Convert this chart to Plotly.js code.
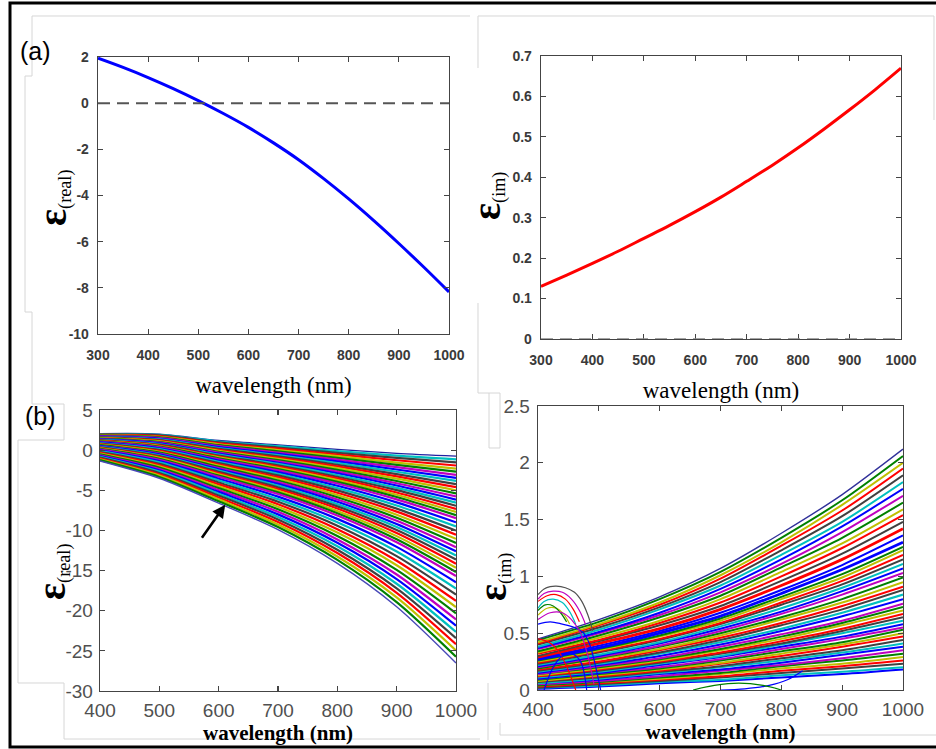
<!DOCTYPE html>
<html><head><meta charset="utf-8">
<script src="https://cdn.plot.ly/plotly-3.0.1.min.js"></script>
<style>html,body{margin:0;padding:0;background:#fff}#chart{width:936px;height:749px}</style>
</head><body><div id="chart"></div>
<script>
// ---------- (a) single permittivity curves ----------
const wlA = [300,350,400,450,500,550,600,650,700,750,800,850,900,950,1000];
const epsRealA = [1.95,1.55,1.11,0.63,0.11,-0.45,-1.05,-1.72,-2.45,-3.27,-4.15,-5.09,-6.08,-7.11,-8.18];
const epsImA = [0.13,0.158,0.187,0.217,0.249,0.281,0.315,0.351,0.39,0.43,0.473,0.519,0.567,0.617,0.67];

// ---------- (b) families of curves ----------
const wlB = [400,500,600,700,800,900,1000];
const epsRealB = [
[2.05,2.0,1.2,0.65,0.1,-0.4,-0.75],
[2.0,1.92,1.08,0.49,-0.11,-0.69,-1.14],
[1.95,1.84,0.97,0.33,-0.33,-0.97,-1.52],
[1.9,1.75,0.85,0.18,-0.54,-1.26,-1.91],
[1.85,1.67,0.73,0.02,-0.75,-1.55,-2.3],
[1.8,1.59,0.62,-0.14,-0.97,-1.83,-2.68],
[1.74,1.51,0.5,-0.3,-1.18,-2.12,-3.07],
[1.69,1.42,0.38,-0.46,-1.39,-2.41,-3.45],
[1.64,1.34,0.26,-0.62,-1.6,-2.69,-3.84],
[1.59,1.26,0.15,-0.77,-1.82,-2.98,-4.23],
[1.54,1.18,0.03,-0.93,-2.03,-3.27,-4.61],
[1.49,1.09,-0.09,-1.09,-2.24,-3.55,-5.0],
[1.44,1.01,-0.2,-1.25,-2.46,-3.84,-5.39],
[1.39,0.93,-0.32,-1.41,-2.67,-4.12,-5.77],
[1.34,0.85,-0.44,-1.57,-2.88,-4.41,-6.16],
[1.29,0.76,-0.56,-1.72,-3.1,-4.7,-6.54],
[1.23,0.68,-0.67,-1.88,-3.31,-4.98,-6.93],
[1.18,0.6,-0.79,-2.04,-3.52,-5.27,-7.32],
[1.13,0.52,-0.91,-2.2,-3.73,-5.56,-7.7],
[1.08,0.43,-1.02,-2.36,-3.95,-5.84,-8.09],
[1.03,0.35,-1.14,-2.52,-4.16,-6.13,-8.48],
[0.96,0.24,-1.3,-2.73,-4.44,-6.51,-8.99],
[0.89,0.13,-1.45,-2.94,-4.73,-6.89,-9.51],
[0.83,0.02,-1.61,-3.15,-5.01,-7.28,-10.02],
[0.76,-0.09,-1.76,-3.36,-5.3,-7.66,-10.54],
[0.69,-0.2,-1.92,-3.57,-5.58,-8.04,-11.05],
[0.62,-0.31,-2.08,-3.78,-5.86,-8.42,-11.57],
[0.55,-0.42,-2.23,-3.99,-6.15,-8.8,-12.08],
[0.49,-0.53,-2.39,-4.2,-6.43,-9.19,-12.6],
[0.42,-0.64,-2.54,-4.41,-6.72,-9.57,-13.11],
[0.35,-0.75,-2.7,-4.63,-7.0,-9.95,-13.63],
[0.28,-0.86,-2.86,-4.84,-7.28,-10.33,-14.14],
[0.21,-0.97,-3.01,-5.05,-7.57,-10.71,-14.66],
[0.15,-1.08,-3.17,-5.26,-7.85,-11.1,-15.17],
[0.08,-1.19,-3.32,-5.47,-8.14,-11.48,-15.69],
[-0.02,-1.36,-3.56,-5.79,-8.56,-12.05,-16.46],
[-0.13,-1.52,-3.79,-6.1,-8.99,-12.62,-17.23],
[-0.23,-1.69,-4.03,-6.42,-9.41,-13.2,-18.0],
[-0.33,-1.85,-4.26,-6.74,-9.84,-13.77,-18.78],
[-0.43,-2.02,-4.49,-7.05,-10.27,-14.34,-19.55],
[-0.53,-2.18,-4.73,-7.37,-10.69,-14.92,-20.32],
[-0.64,-2.35,-4.96,-7.68,-11.12,-15.49,-21.09],
[-0.74,-2.51,-5.2,-8.0,-11.54,-16.06,-21.87],
[-0.84,-2.68,-5.43,-8.32,-11.97,-16.64,-22.64],
[-0.94,-2.84,-5.66,-8.63,-12.4,-17.21,-23.41],
[-1.04,-3.01,-5.9,-8.95,-12.82,-17.78,-24.18],
[-1.15,-3.17,-6.13,-9.27,-13.25,-18.35,-24.96],
[-1.25,-3.34,-6.37,-9.58,-13.67,-18.93,-25.73],
[-1.35,-3.5,-6.6,-9.9,-14.1,-19.5,-26.5]
];
const epsImB = [
[0.01,0.03,0.06,0.08,0.11,0.14,0.18],
[0.02,0.04,0.07,0.09,0.13,0.16,0.2],
[0.02,0.05,0.08,0.11,0.15,0.19,0.23],
[0.03,0.06,0.09,0.12,0.17,0.21,0.26],
[0.04,0.07,0.1,0.14,0.19,0.23,0.29],
[0.04,0.07,0.11,0.15,0.21,0.26,0.32],
[0.05,0.08,0.12,0.17,0.22,0.28,0.35],
[0.06,0.09,0.14,0.18,0.24,0.31,0.38],
[0.06,0.1,0.15,0.2,0.26,0.33,0.41],
[0.07,0.11,0.16,0.21,0.28,0.35,0.44],
[0.08,0.12,0.17,0.23,0.3,0.38,0.47],
[0.08,0.13,0.18,0.24,0.32,0.4,0.5],
[0.09,0.14,0.19,0.26,0.34,0.42,0.53],
[0.1,0.15,0.2,0.27,0.36,0.45,0.55],
[0.1,0.15,0.22,0.29,0.38,0.47,0.58],
[0.11,0.16,0.23,0.3,0.4,0.5,0.61],
[0.12,0.17,0.24,0.32,0.41,0.52,0.64],
[0.12,0.18,0.25,0.33,0.43,0.54,0.67],
[0.13,0.19,0.26,0.35,0.45,0.57,0.7],
[0.14,0.2,0.27,0.36,0.47,0.59,0.73],
[0.14,0.21,0.28,0.38,0.49,0.61,0.76],
[0.15,0.22,0.3,0.4,0.52,0.65,0.8],
[0.16,0.23,0.32,0.42,0.54,0.68,0.84],
[0.17,0.24,0.33,0.44,0.57,0.71,0.88],
[0.18,0.25,0.35,0.46,0.59,0.74,0.91],
[0.19,0.27,0.36,0.48,0.62,0.77,0.95],
[0.19,0.28,0.38,0.5,0.64,0.8,0.99],
[0.2,0.29,0.39,0.52,0.67,0.84,1.03],
[0.21,0.3,0.41,0.54,0.69,0.87,1.07],
[0.22,0.31,0.42,0.56,0.72,0.9,1.11],
[0.23,0.33,0.44,0.58,0.75,0.93,1.15],
[0.24,0.34,0.45,0.59,0.77,0.96,1.19],
[0.25,0.35,0.47,0.61,0.8,0.99,1.23],
[0.26,0.36,0.48,0.63,0.82,1.02,1.26],
[0.27,0.37,0.5,0.65,0.85,1.06,1.3],
[0.28,0.39,0.52,0.68,0.88,1.1,1.36],
[0.29,0.41,0.54,0.71,0.92,1.15,1.42],
[0.3,0.43,0.57,0.74,0.96,1.2,1.48],
[0.32,0.44,0.59,0.77,1.0,1.25,1.54],
[0.33,0.46,0.61,0.8,1.04,1.29,1.59],
[0.34,0.48,0.64,0.83,1.08,1.34,1.65],
[0.36,0.5,0.66,0.86,1.11,1.39,1.71],
[0.37,0.51,0.68,0.89,1.15,1.44,1.77],
[0.38,0.53,0.71,0.92,1.19,1.48,1.83],
[0.4,0.55,0.73,0.95,1.23,1.53,1.89],
[0.41,0.57,0.75,0.98,1.27,1.58,1.95],
[0.42,0.58,0.77,1.01,1.3,1.63,2.0],
[0.44,0.6,0.8,1.04,1.34,1.67,2.06],
[0.45,0.62,0.82,1.07,1.38,1.72,2.12]
];
// spurious arc-shaped solutions in (b) imaginary part
const arcWl = [
[400,410,420,430,445,460,472,482,490],
[400,410,425,440,455,468,478],
[400,415,430,445,458,468],
[400,410,425,440,452,462],
[400,415,430,442,452],
[400,420,440,460,475,485,495,503],
[400,412,425,437,447],
[400,420,440,455,470,482,492],
[400,418,435,450,462],
[410,425,440,455,470,480],
[700,740,780,810,835],
[655,690,730,770,800]
];
const arcIm = [
[0.84,0.89,0.91,0.915,0.9,0.86,0.78,0.66,0.52],
[0.80,0.85,0.87,0.86,0.8,0.7,0.58],
[0.78,0.83,0.84,0.8,0.71,0.6],
[0.72,0.78,0.8,0.77,0.69,0.58],
[0.66,0.72,0.72,0.67,0.58],
[0.58,0.6,0.58,0.55,0.5,0.4,0.2,0.0],
[0.70,0.75,0.74,0.68,0.6],
[0.62,0.68,0.68,0.62,0.5,0.3,0.05],
[0.45,0.42,0.33,0.17,0.0],
[0.0,0.2,0.3,0.32,0.25,0.0],
[0.0,0.01,0.04,0.09,0.17],
[0.0,0.04,0.06,0.04,0.0]
];

// ---------- tick labels ----------
const xTicksA = [300,400,500,600,700,800,900,1000];
const xTickTextA = ['300','400','500','600','700','800','900','1000'];
const yTicksRealA = [-10,-8,-6,-4,-2,0,2];
const yTickTextRealA = ['-10','-8','-6','-4','-2','0','2'];
const yTicksImA = [0,0.1,0.2,0.3,0.4,0.5,0.6,0.7];
const yTickTextImA = ['0','0.1','0.2','0.3','0.4','0.5','0.6','0.7'];
const xTicksB = [400,500,600,700,800,900,1000];
const xTickTextB = ['400','500','600','700','800','900','1000'];
const yTicksRealB = [-30,-25,-20,-15,-10,-5,0,5];
const yTickTextRealB = ['-30','-25','-20','-15','-10','-5','0','5'];
const yTicksImB = [0,0.5,1,1.5,2,2.5];
const yTickTextImB = ['0','0.5','1','1.5','2','2.5'];

// ---------- styling ----------
const matlabColors = ['#0000FF','#008000','#FF0000','#00BFBF','#BF00BF','#BFBF00','#404040'];
const arcColors = ['#505050','#BF00BF','#FF0000','#00BFBF','#BFBF00','#0000FF','#008000','#BF00BF','#FF0000','#0000FF','#0000FF','#008000'];
const W = 936, H = 749;
const px = v => v / W;
const py = v => 1 - v / H;

const traces = [];
traces.push({x: wlA, y: epsRealA, xaxis:'x', yaxis:'y', mode:'lines', line:{color:'#0000FF', width:3, shape:'spline'}, hoverinfo:'skip'});
traces.push({x: wlA, y: epsImA, xaxis:'x2', yaxis:'y2', mode:'lines', line:{color:'#FF0000', width:3, shape:'spline'}, hoverinfo:'skip'});
const edgeReal = {0:'#2020A0', 48:'#4848B8'};
epsRealB.forEach((row, i) => {
  traces.push({x: wlB, y: row, xaxis:'x3', yaxis:'y3', mode:'lines',
    line:{color: edgeReal[i] || matlabColors[(i*3) % 7], width: edgeReal[i] ? 1.4 : 2.2, shape:'spline', smoothing:0.8}, hoverinfo:'skip'});
});
const thickIm = {34:'#0000FF', 36:'#FF0000'};
const edgeIm = {48:'#30309A'};
epsImB.forEach((row, i) => {
  traces.push({x: wlB, y: row, xaxis:'x4', yaxis:'y4', mode:'lines',
    line:{color: thickIm[i] || edgeIm[i] || matlabColors[(i*3) % 7], width: thickIm[i] ? 2.8 : (edgeIm[i] ? 1.4 : 2.0), shape:'spline', smoothing:0.8}, hoverinfo:'skip'});
});
arcWl.forEach((xs, i) => {
  traces.push({x: xs, y: arcIm[i], xaxis:'x4', yaxis:'y4', mode:'lines',
    line:{color: arcColors[i], width:1.2, shape:'spline'}, hoverinfo:'skip'});
});

const tickFontA = {family:'Liberation Sans, Arial, sans-serif', size:14, color:'#3a3a3a', weight:'bold'};
const tickFontB = {family:'Liberation Sans Narrow, Liberation Sans, Arial, sans-serif', size:19, color:'#505050'};
const xTitleA = {text:'wavelength (nm)', font:{family:'Liberation Serif, Times New Roman, serif', size:23, color:'#000'}, standoff:14};
const xTitleB = {text:'<b>wavelength (nm)</b>', font:{family:'Liberation Serif, Times New Roman, serif', size:21, color:'#000'}, standoff:4};
const epsReal = "<b><span style='font-size:40px'>ε</span></b><sub>(real)</sub>";
const epsIm = "<b><span style='font-size:40px'>ε</span></b><sub>(im)</sub>";
const yTitleFont = {family:'Liberation Serif, Times New Roman, serif', size:26, color:'#000'};

function axisBase(extra) {
  return Object.assign({showline:true, linecolor:'#444', linewidth:1.3, mirror:'ticks',
    ticks:'inside', ticklen:5, tickcolor:'#444', tickwidth:1.2, showgrid:false, zeroline:false,
    automargin:false, fixedrange:true, tickmode:'array'}, extra);
}
function yTitle(text, x, y) {
  return {text:text, xref:'paper', yref:'paper', x:px(x), y:py(y), xanchor:'center', yanchor:'middle',
    textangle:-90, showarrow:false, font:yTitleFont};
}

const layout = {
  width: W, height: H, margin:{l:0,r:0,t:0,b:0}, paper_bgcolor:'#fff', plot_bgcolor:'#fff',
  showlegend:false,
  xaxis: axisBase({domain:[px(98),px(449)], range:[300,1000], tickvals:xTicksA, ticktext:xTickTextA, tickfont:tickFontA, ticklabelstandoff:8, title:xTitleA, anchor:'y'}),
  yaxis: axisBase({domain:[py(334),py(57)], range:[-10,2], tickvals:yTicksRealA, ticktext:yTickTextRealA, tickfont:tickFontA, ticklabelstandoff:5, anchor:'x'}),
  xaxis2: axisBase({domain:[px(541),px(901)], range:[300,1000], tickvals:xTicksA, ticktext:xTickTextA, tickfont:tickFontA, ticklabelstandoff:8, title:xTitleA, anchor:'y2'}),
  yaxis2: axisBase({domain:[py(339),py(56)], range:[0,0.7], tickvals:yTicksImA, ticktext:yTickTextImA, tickfont:tickFontA, ticklabelstandoff:5, anchor:'x2'}),
  xaxis3: axisBase({domain:[px(100),px(456)], range:[400,1000], tickvals:xTicksB, ticktext:xTickTextB, tickfont:tickFontB, ticklabelstandoff:2, title:xTitleB, anchor:'y3'}),
  yaxis3: axisBase({domain:[py(691),py(410)], range:[-30,5], tickvals:yTicksRealB, ticktext:yTickTextRealB, tickfont:tickFontB, ticklabelstandoff:2, anchor:'x3'}),
  xaxis4: axisBase({domain:[px(538),px(903)], range:[400,1000], tickvals:xTicksB, ticktext:xTickTextB, tickfont:tickFontB, ticklabelstandoff:2, title:xTitleB, anchor:'y4'}),
  yaxis4: axisBase({domain:[py(690),py(406)], range:[0,2.5], tickvals:yTicksImB, ticktext:yTickTextImB, tickfont:tickFontB, ticklabelstandoff:3, anchor:'x4'}),
  shapes: [
    {type:'line', xref:'x domain', yref:'y', x0:0, x1:1, y0:0, y1:0, line:{color:'#555', width:2, dash:'12px,7px'}},
    {type:'line', xref:'x2 domain', yref:'y2', x0:0, x1:1, y0:0, y1:0, line:{color:'#888', width:1.5, dash:'12px,7px'}},
    {type:'rect', xref:'paper', yref:'paper', x0:px(10), x1:px(945), y0:py(747), y1:py(3), line:{color:'#000', width:3}, layer:'above'}
  ],
  annotations: [
    {text:'(a)', xref:'paper', yref:'paper', x:px(35), y:py(51), xanchor:'center', yanchor:'middle', showarrow:false, font:{family:'Liberation Sans, Arial, sans-serif', size:25, color:'#000'}},
    {text:'(b)', xref:'paper', yref:'paper', x:px(40), y:py(416), xanchor:'center', yanchor:'middle', showarrow:false, font:{family:'Liberation Sans, Arial, sans-serif', size:25, color:'#000'}},
    yTitle(epsReal, 53, 198),
    yTitle(epsIm, 487, 196),
    yTitle(epsReal, 52, 572),
    yTitle(epsIm, 493, 577),
    {text:'', xref:'x3', yref:'y3', x:611, y:-6.8, axref:'x3', ayref:'y3', ax:570, ay:-11.1, showarrow:true, arrowhead:2, arrowsize:1, arrowwidth:2.6, arrowcolor:'#000'}
  ]
};

// light grey frames of the pasted sub-figures
const framePaths = [
  [[470,16],[32,16],[32,76],[25,76],[25,312],[32,312],[32,404],[64,404],[64,440],[18,440],[18,683],[64,683],[64,739],[480,739]],
  [[478,68],[478,16],[934,16],[934,120]],
  [[478,303],[478,393],[489,393]],
  [[489,393],[500,393],[500,448],[489,448],[489,393]],
  [[488,683],[488,740]],
  [[500,723],[500,735],[936,735]]
];
framePaths.forEach(pts => {
  const d = pts.map((p, k) => (k ? 'L' : 'M') + px(p[0]).toFixed(5) + ',' + py(p[1]).toFixed(5)).join(' ');
  layout.shapes.push({type:'path', xref:'paper', yref:'paper', path:d, line:{color:'#d6d6d6', width:1}, layer:'below'});
});

Plotly.newPlot('chart', traces, layout, {staticPlot:true, displayModeBar:false});
</script>
</body></html>
